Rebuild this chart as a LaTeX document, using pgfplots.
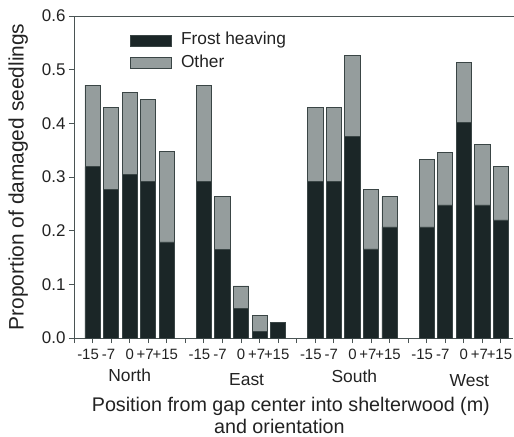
\documentclass[border=0pt]{standalone}
\usepackage{fontspec}
\setmainfont{Liberation Sans}
\usepackage{pgfplots}
\pgfplotsset{compat=1.18}
\definecolor{frost}{HTML}{1B2627}
\definecolor{other}{HTML}{959D9D}
\definecolor{edge}{HTML}{3A4545}
\definecolor{axisc}{HTML}{4A5454}
\definecolor{txt}{HTML}{222222}
\newcommand\sh[2]{\makebox[0pt]{\hspace{-#1}#2}}
\begin{document}
\begin{tikzpicture}
\path[use as bounding box] (-74bp,-99bp) rectangle (440bp,338bp);
\begin{axis}[
  at={(0,0)}, anchor=south west,
  scale only axis, width=439bp, height=322bp,
  xmin=0, xmax=23.65, ymin=0, ymax=0.6,
  clip=false,
  axis x line*=bottom, axis y line*=left,
  axis line style={axisc, line width=0.9bp},
  ybar stacked, bar width=0.82,
  xtick={0,1,...,23},
  xticklabels={{},\sh{9bp}{-15},\sh{5bp}{-7},0,\sh{6bp}{+7},\sh{3bp}{+15},{},
               \sh{9bp}{-15},\sh{5bp}{-7},0,\sh{6bp}{+7},\sh{3bp}{+15},{},
               \sh{9bp}{-15},\sh{5bp}{-7},0,\sh{6bp}{+7},\sh{3bp}{+15},{},
               \sh{9bp}{-15},\sh{5bp}{-7},0,\sh{6bp}{+7},\sh{3bp}{+15}},
  ytick={0,0.1,0.2,0.3,0.4,0.5,0.6},
  /pgf/number format/assume math mode=true,
  tick style={axisc, line width=0.9bp},
  major tick length=5bp, tick align=outside,
  xticklabel style={font=\fontsize{15}{18}\selectfont, text=txt, yshift=-3bp},
  yticklabel style={font=\fontsize{17}{20}\selectfont, text=txt, /pgf/number format/.cd, fixed, fixed zerofill, precision=1},
  ylabel={Proportion of damaged seedlings},
  ylabel style={at={(axis description cs:-0.127,0.5)}, anchor=center, font=\fontsize{21}{25}\selectfont, text=txt},
  xlabel={Position from gap center into shelterwood (m)\\and orientation\rule{23bp}{0pt}},
  xlabel style={at={(axis description cs:0.494,0)}, anchor=north, yshift=-59bp, inner sep=0pt, align=center, font=\fontsize{19.8}{22}\selectfont, text=txt},
  legend style={at={(axis description cs:0.1276,0.949)}, anchor=north west, draw=none, fill=none, inner sep=0pt,
    font=\fontsize{17.4}{20}\selectfont, text=txt, row sep=6.5bp,
    nodes={inner sep=0pt, text height=12bp, text depth=4bp}},
  legend cell align=left,
  legend image code/.code={\draw[#1, draw=edge, line width=0.8bp] (0bp,-5.5bp) rectangle (41bp,5.5bp);},
]
\addplot[fill=frost, draw=edge, line width=0.8bp] coordinates {
 (1,0.319) (2,0.277) (3,0.305) (4,0.291) (5,0.179)
 (7,0.291) (8,0.165) (9,0.055) (10,0.013) (11,0.0285)
 (13,0.291) (14,0.291) (15,0.375) (16,0.166) (17,0.207)
 (19,0.207) (20,0.248) (21,0.401) (22,0.248) (23,0.220)};
\addlegendentry{\hspace{9bp}Frost heaving}
\addplot[fill=other, draw=edge, line width=0.8bp] coordinates {
 (1,0.152) (2,0.153) (3,0.153) (4,0.154) (5,0.168)
 (7,0.180) (8,0.098) (9,0.042) (10,0.029) (11,0)
 (13,0.139) (14,0.139) (15,0.152) (16,0.111) (17,0.056)
 (19,0.125) (20,0.098) (21,0.112) (22,0.113) (23,0.099)};
\addlegendentry{\hspace{9bp}Other}
\draw[axisc, line width=0.9bp] (rel axis cs:0,1) -- (rel axis cs:1.01,1);
\node[anchor=base, font=\fontsize{17.5}{20}\selectfont, text=txt] at ([yshift=-43.7bp]axis cs:3,0) {North};
\node[anchor=base, font=\fontsize{17.5}{20}\selectfont, text=txt] at ([yshift=-47bp]axis cs:9.3,0) {East};
\node[anchor=base, font=\fontsize{17.5}{20}\selectfont, text=txt] at ([yshift=-44bp]axis cs:15.1,0) {South};
\node[anchor=base, font=\fontsize{17.5}{20}\selectfont, text=txt] at ([yshift=-48bp]axis cs:21.3,0) {West};
\end{axis}
\end{tikzpicture}
\end{document}
